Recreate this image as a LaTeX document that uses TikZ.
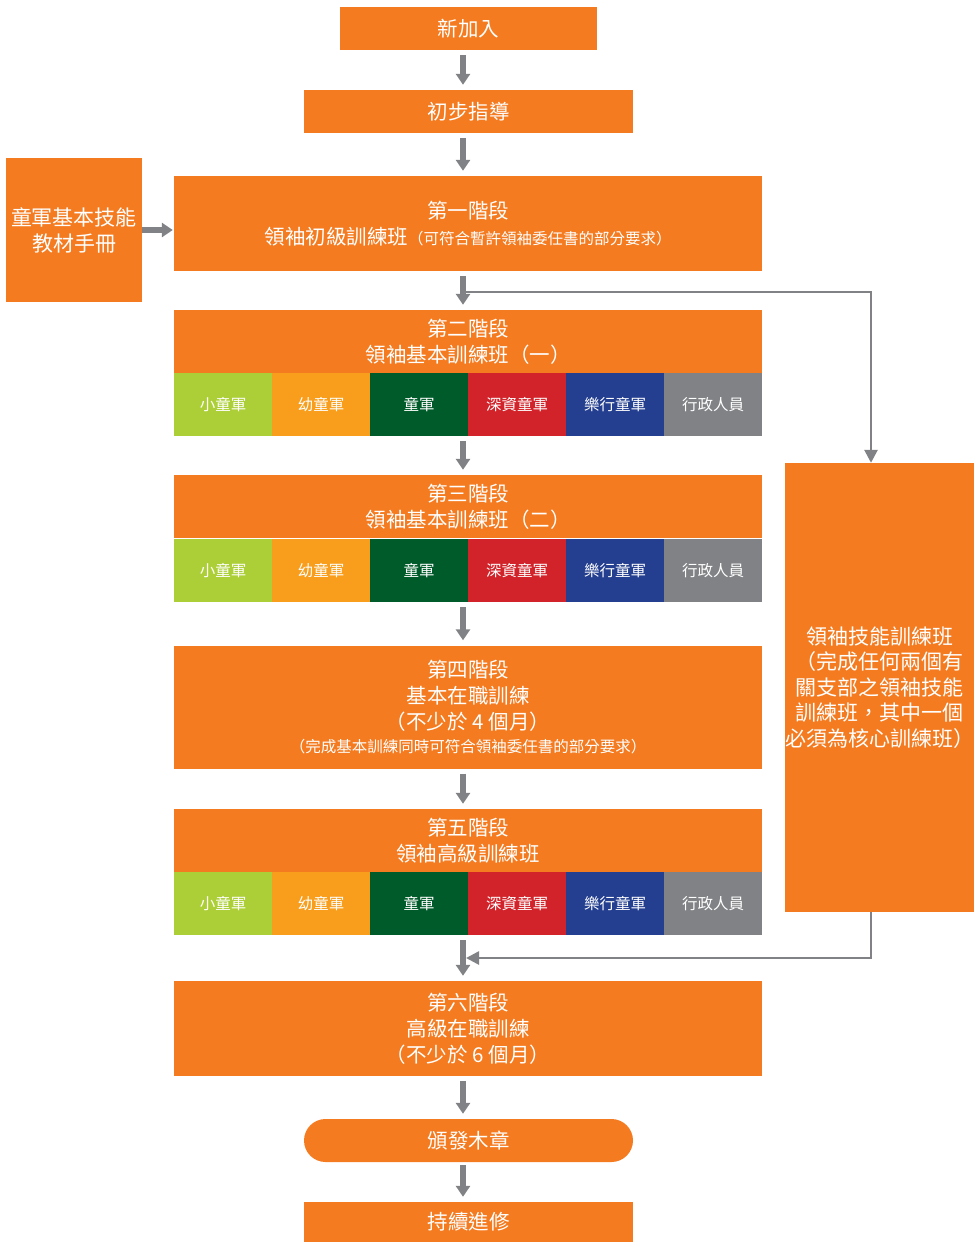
\documentclass[tikz,border=0pt]{standalone}
\usepackage{fontspec}
\setmainfont{Noto Sans CJK TC}
\usetikzlibrary{arrows.meta}
\definecolor{orng}{HTML}{F47B20}
\definecolor{cA}{HTML}{ACCF37}
\definecolor{cB}{HTML}{F89E1C}
\definecolor{cC}{HTML}{005B2A}
\definecolor{cD}{HTML}{D2232A}
\definecolor{cE}{HTML}{243F8F}
\definecolor{cF}{HTML}{808285}
\definecolor{arrgray}{HTML}{808285}
\begin{document}
\begin{tikzpicture}[x=1pt,y=-1pt,
  box/.style={fill=orng,text=white,inner sep=0pt,align=center,font=\fontsize{20.5}{26}\selectfont},
  cell/.style={text=white,inner sep=0pt,minimum width=98pt,minimum height=63pt,font=\fontsize{15.5}{18}\selectfont},
  arr/.style={draw=arrgray,line width=6pt,shorten <=5pt,shorten >=5pt,-{Triangle[width=14pt,length=11pt]}},
  thin/.style={draw=arrgray,line width=2.6pt,-{Triangle[width=13pt,length=13pt]}}]
\useasboundingbox (0,0) rectangle (977,1243);
\coordinate (ax) at (463,0);
\coordinate (rx) at (871,0);
\newcommand{\cellrow}[2]{%
  \node[cell,fill=cA] (#1a) at (223,#2) {小童軍};
  \node[cell,fill=cB] (#1b) at (321,#2) {幼童軍};
  \node[cell,fill=cC] (#1c) at (419,#2) {童軍};
  \node[cell,fill=cD] (#1d) at (517,#2) {深資童軍};
  \node[cell,fill=cE] (#1e) at (615,#2) {樂行童軍};
  \node[cell,fill=cF] (#1f) at (713,#2) {行政人員};}

\node[box,minimum width=257pt,minimum height=43pt] (join) at (468.5,28.5) {新加入};
\node[box,minimum width=329pt,minimum height=43pt] (intro) at (468.5,111.5) {初步指導};
\node[box,minimum width=136pt,minimum height=144pt,font=\fontsize{21}{26}\selectfont] (book) at (74,230) {童軍基本技能\\教材手冊};
\node[box,minimum width=588pt,minimum height=95pt] (s1) at (468,223.5) {第一階段\\領袖初級訓練班{\fontsize{15.5}{20}\selectfont（可符合暫許領袖委任書的部分要求）}};
\node[box,minimum width=588pt,minimum height=63pt] (s2) at (468,341.5) {第二階段\\領袖基本訓練班（一）};
\cellrow{s2}{404.5}
\node[box,minimum width=588pt,minimum height=63pt] (s3) at (468,506.5) {第三階段\\領袖基本訓練班（二）};
\cellrow{s3}{570.5}
\node[box,minimum width=588pt,minimum height=123pt] (s4) at (468,707) {第四階段\\基本在職訓練\\（不少於 4 個月）\\[-3pt]{\fontsize{15.5}{20}\selectfont（完成基本訓練同時可符合領袖委任書的部分要求）}};
\node[box,minimum width=588pt,minimum height=63pt] (s5) at (468,840.5) {第五階段\\領袖高級訓練班};
\cellrow{s5}{903.5}
\node[box,minimum width=588pt,minimum height=95pt] (s6) at (468,1028.5) {第六階段\\高級在職訓練\\（不少於 6 個月）};
\node[box,minimum width=329pt,minimum height=43pt,rounded corners=21.5pt] (badge) at (468.5,1140.5) {頒發木章};
\node[box,minimum width=329pt,minimum height=40pt] (cont) at (468.5,1222) {持續進修};
\node[box,minimum width=187pt,minimum height=449pt,font=\fontsize{21}{25.5}\selectfont] (skill) at (879.5,687.5) {領袖技能訓練班\\（完成任何兩個有\\關支部之領袖技能\\訓練班，其中一個\\必須為核心訓練班）};

\draw[arr] (join.south -| ax) -- (intro.north -| ax);
\draw[arr] (intro.south -| ax) -- (s1.north -| ax);
\draw[arr,shorten <=0pt,shorten >=1pt] (book.east) -- (s1.west |- book.east);
\draw[arr] (s1.south -| ax) -- (s2.north -| ax);
\draw[arr] (s2a.south -| ax) -- (s3.north -| ax);
\draw[arr] (s3a.south -| ax) -- (s4.north -| ax);
\draw[arr] (s4.south -| ax) -- (s5.north -| ax);
\draw[arr] (s5a.south -| ax) -- (s6.north -| ax);
\draw[arr] (s6.south -| ax) -- (badge.north -| ax);
\draw[arr,shorten <=3pt] (badge.south -| ax) -- (cont.north -| ax);

\coordinate (br) at (466,292);
\coordinate (ret) at (466,958);
\draw[thin] (br) -- (br -| rx) -- (skill.north -| rx);
\draw[thin] (skill.south -| rx) -- (ret -| rx) -- (ret);
\end{tikzpicture}
\end{document}
